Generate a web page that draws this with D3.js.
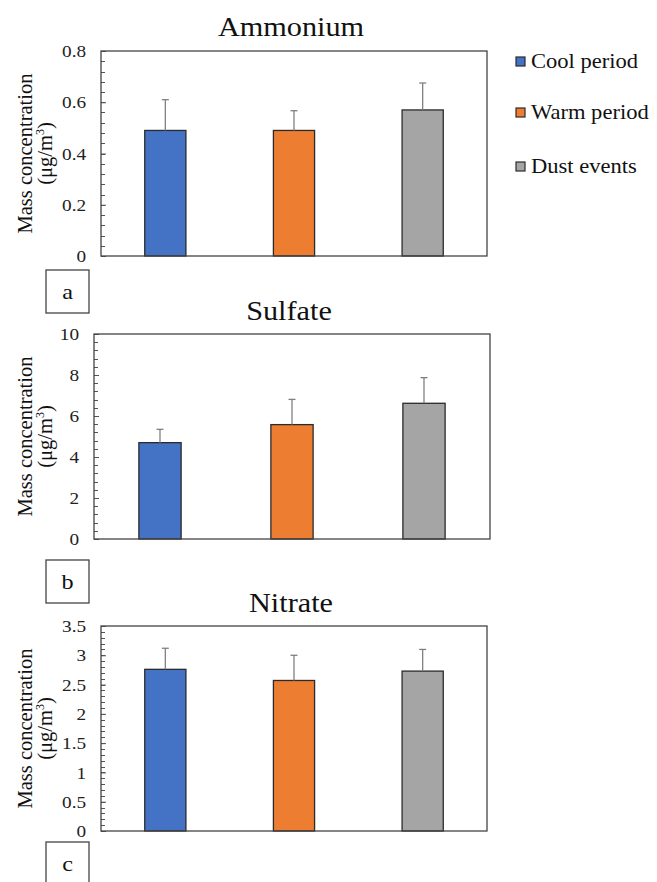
<!DOCTYPE html>
<html>
<head>
<meta charset="utf-8">
<script src="https://cdn.jsdelivr.net/npm/d3@7"></script>
<style>
  html, body { margin: 0; padding: 0; background: #fff; }
  svg { display: block; }
</style>
</head>
<body>
<svg id="chart" width="657" height="882"></svg>
<script>
// ---- data ----
const categories = ["Cool period", "Warm period", "Dust events"];
const colors = ["#4472C4", "#ED7D31", "#A5A5A5"];
const panelTitles = ["Ammonium", "Sulfate", "Nitrate"];
const panelLetters = ["a", "b", "c"];
const ammoniumMean = [0.49, 0.49, 0.57];
const ammoniumErr = [0.12, 0.077, 0.105];
const sulfateMean = [4.70, 5.58, 6.62];
const sulfateErr = [0.65, 1.23, 1.25];
const nitrateMean = [2.76, 2.57, 2.73];
const nitrateErr = [0.36, 0.43, 0.37];
const ammoniumTicks = [0, 0.2, 0.4, 0.6, 0.8];
const sulfateTicks = [0, 2, 4, 6, 8, 10];
const nitrateTicks = [0, 0.5, 1, 1.5, 2, 2.5, 3, 3.5];

const FONT = "'Liberation Serif', serif";
const SX = 1.1; // horizontal stretch of the reference's lettering
const svg = d3.select("#chart");

function addText(parent, x, y, size, txt, anchor) {
  return parent.append("text")
    .attr("transform", `translate(${x},${y}) scale(${SX},1)`)
    .attr("text-anchor", anchor || "start")
    .style("font-family", FONT)
    .attr("font-size", size)
    .attr("fill", "#111")
    .text(txt);
}

const panels = [
  { means: ammoniumMean, errs: ammoniumErr, ticks: ammoniumTicks, minor: 0.04,
    box: { l: 101, t: 51, r: 487, b: 256 }, titleY: 36, letterBox: { x: 46, y: 270 } },
  { means: sulfateMean, errs: sulfateErr, ticks: sulfateTicks, minor: 0.4,
    box: { l: 94, t: 334, r: 490, b: 539 }, titleY: 320, letterBox: { x: 46, y: 560 } },
  { means: nitrateMean, errs: nitrateErr, ticks: nitrateTicks, minor: 0.1,
    box: { l: 101, t: 626, r: 487, b: 831 }, titleY: 612, letterBox: { x: 46, y: 842 } }
];

panels.forEach((p, pi) => {
  const g = svg.append("g");
  const ticks = p.ticks;
  const yMax = ticks[ticks.length - 1];
  const x = d3.scaleBand().domain(categories).range([p.box.l, p.box.r])
    .paddingInner(0.68).paddingOuter(0.34);
  const y = d3.scaleLinear().domain([0, yMax]).range([p.box.b, p.box.t]);

  // title
  addText(g, (p.box.l + p.box.r) / 2 - 3, p.titleY, 27.5, panelTitles[pi], "middle");

  // minor ticks (inside)
  const nMinor = Math.round(yMax / p.minor);
  const minorVals = d3.range(0, nMinor + 1).map(i => +(i * p.minor).toFixed(6));
  g.append("g").selectAll("line").data(minorVals).join("line")
    .attr("x1", p.box.l).attr("x2", p.box.l + 4)
    .attr("y1", d => Math.round(y(d)) + 0.5).attr("y2", d => Math.round(y(d)) + 0.5)
    .attr("stroke", "#555").attr("stroke-width", 1);

  // major axis with labels
  const axis = d3.axisLeft(y).tickValues(ticks).tickSize(-5).tickPadding(13.6)
    .tickFormat(d => String(d));
  const ag = g.append("g").attr("transform", `translate(${p.box.l},0)`).call(axis);
  ag.select(".domain").remove();
  ag.selectAll(".tick line").attr("stroke", "#555");
  ag.selectAll(".tick text")
    .style("font-family", FONT)
    .attr("transform", `scale(${SX},1)`)
    .attr("font-size", 17.5).attr("fill", "#222");

  // bars
  g.append("g").selectAll("rect").data(p.means).join("rect")
    .attr("x", (d, i) => x(categories[i]))
    .attr("y", d => y(d))
    .attr("width", x.bandwidth())
    .attr("height", d => y(0) - y(d))
    .attr("fill", (d, i) => colors[i])
    .attr("stroke", "#2b2b2b").attr("stroke-width", 1.3);

  // error bars
  const eg = g.append("g").attr("stroke", "#808080").attr("stroke-width", 1.3);
  p.means.forEach((m, i) => {
    const cx = x(categories[i]) + x.bandwidth() / 2;
    eg.append("line").attr("x1", cx).attr("x2", cx)
      .attr("y1", y(m)).attr("y2", y(m + p.errs[i]));
    eg.append("line").attr("x1", cx - 3.5).attr("x2", cx + 3.5)
      .attr("y1", y(m + p.errs[i])).attr("y2", y(m + p.errs[i]));
  });

  // frame
  g.append("rect")
    .attr("x", p.box.l).attr("y", p.box.t)
    .attr("width", p.box.r - p.box.l).attr("height", p.box.b - p.box.t)
    .attr("fill", "none").attr("stroke", "#444").attr("stroke-width", 1.3);

  // y label
  const cy = (p.box.t + p.box.b) / 2;
  g.append("text")
    .attr("transform", `translate(31.5,${cy}) rotate(-90)`)
    .attr("text-anchor", "middle")
    .style("font-family", FONT)
    .attr("font-size", 20.5).attr("fill", "#111")
    .text("Mass concentration");
  const t2 = g.append("text")
    .attr("transform", `translate(51.5,${cy}) rotate(-90)`)
    .attr("text-anchor", "middle")
    .style("font-family", FONT)
    .attr("font-size", 20.5).attr("fill", "#111");
  t2.append("tspan").text("(μg/m");
  t2.append("tspan").attr("font-size", 12).attr("dy", -8).text("3");
  t2.append("tspan").attr("dy", 8).text(")");

  // letter box
  g.append("rect")
    .attr("x", p.letterBox.x).attr("y", p.letterBox.y)
    .attr("width", 43).attr("height", 43)
    .attr("fill", "#fff").attr("stroke", "#444").attr("stroke-width", 1.3);
  addText(g, p.letterBox.x + 21.5, p.letterBox.y + 29, 22, panelLetters[pi], "middle");
});

// legend
const legendY = [62, 113, 167];
const lg = svg.append("g");
categories.forEach((c, i) => {
  lg.append("rect")
    .attr("x", 516).attr("y", legendY[i] - 5)
    .attr("width", 9).attr("height", 9)
    .attr("fill", colors[i]).attr("stroke", "#2b2b2b").attr("stroke-width", 1.2);
  addText(lg, 531, legendY[i] + 6, 20.5, c, "start");
});
</script>
</body>
</html>
